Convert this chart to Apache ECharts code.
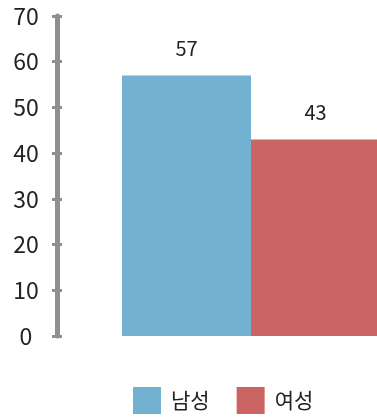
<!DOCTYPE html>
<html>
<head>
<meta charset="utf-8">
<script src="https://cdn.jsdelivr.net/npm/echarts@6/dist/echarts.min.js"></script>
<style>
  html, body { margin: 0; padding: 0; background: #fff; }
  #chart { width: 377px; height: 417px; }
</style>
</head>
<body>
<div id="chart"></div>
<script>
// Share by gender (%)
const seriesNames = ['남성', '여성'];
const seriesValues = [57, 43];
const seriesColors = ['#72B1CF', '#CB6563'];
const yTicks = [0, 10, 20, 30, 40, 50, 60, 70];

const FONT = '"Noto Sans CJK KR", "Noto Sans", sans-serif';
const axisGray = '#8f8f8f';

const chart = echarts.init(document.getElementById('chart'), null, { renderer: 'canvas' });

const yBase = {
  type: 'value',
  min: yTicks[0],
  max: yTicks[yTicks.length - 1],
  interval: yTicks[1] - yTicks[0],
  position: 'left',
  splitLine: { show: false }
};

chart.setOption({
  animation: false,
  textStyle: { fontFamily: FONT },
  grid: {
    left: 57, top: 16, width: 388, bottom: 81,
    containLabel: false, outerBoundsMode: 'none'
  },
  legend: {
    data: seriesNames,
    left: 133,
    top: 387,
    padding: 0,
    itemWidth: 28,
    itemHeight: 27,
    itemGap: 27,
    icon: 'rect',
    textStyle: { fontFamily: FONT, fontSize: 21, color: '#222', padding: [0, 0, 0, 5] }
  },
  xAxis: {
    type: 'category',
    data: [''],
    axisLine: { show: false },
    axisTick: { show: false },
    axisLabel: { show: false }
  },
  yAxis: [
    Object.assign({}, yBase, {
      axisLine: { show: true, lineStyle: { color: axisGray, width: 5 } },
      axisTick: { show: true, inside: false, length: 5, lineStyle: { color: axisGray, width: 3 } },
      axisLabel: {
        show: true, margin: 31, align: 'center', fontFamily: FONT,
        fontSize: 23, color: '#222', padding: [4, 0, 0, 0]
      }
    }),
    Object.assign({}, yBase, {
      axisLine: { show: false },
      axisTick: { show: true, inside: true, length: 5, lineStyle: { color: axisGray, width: 3 } },
      axisLabel: { show: false }
    })
  ],
  series: seriesNames.map((name, i) => ({
    name: name,
    type: 'bar',
    barWidth: 129,
    barGap: '0%',
    data: [seriesValues[i]],
    itemStyle: { color: seriesColors[i] },
    label: {
      show: true,
      position: 'top',
      distance: 17,
      fontFamily: FONT,
      fontSize: 20,
      color: '#222'
    }
  }))
});
</script>
</body>
</html>
